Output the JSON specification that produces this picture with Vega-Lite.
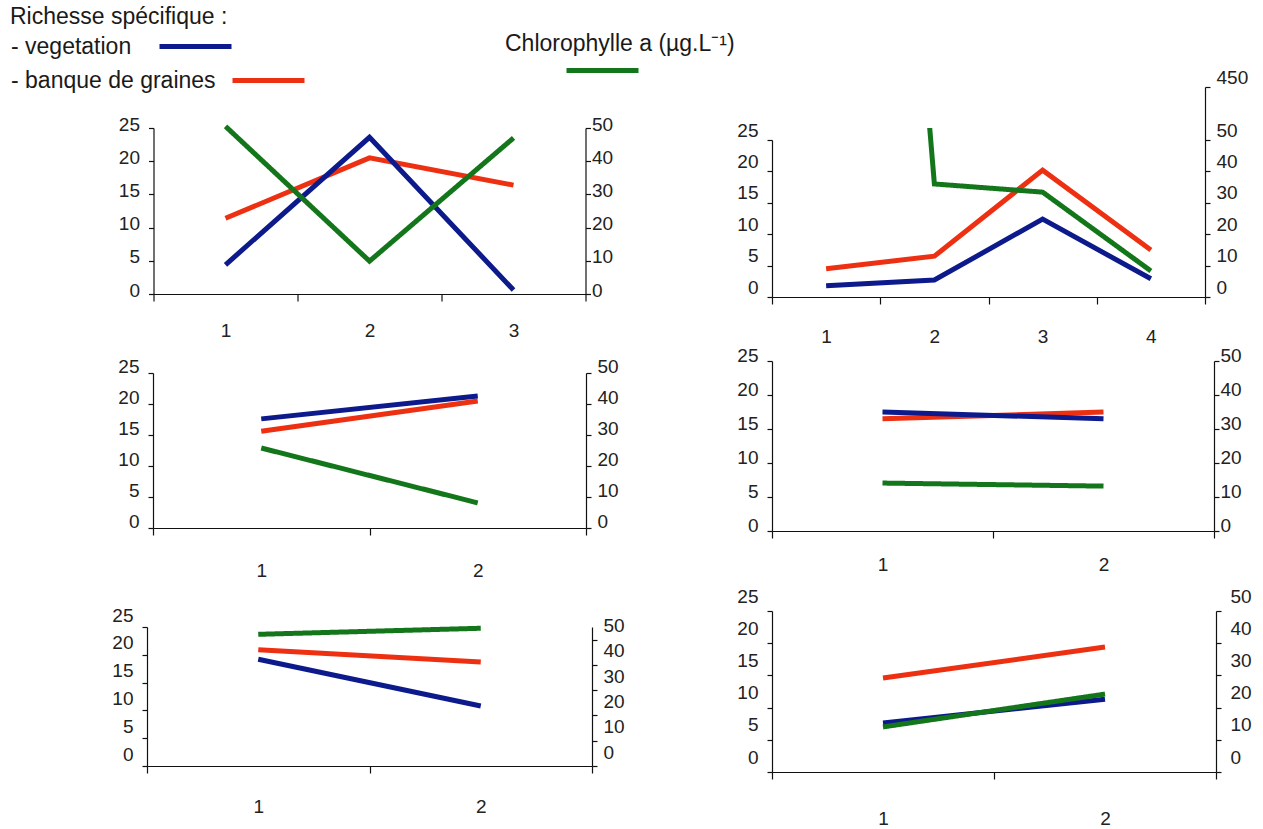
{
  "$schema": "https://vega.github.io/schema/vega-lite/v6.json",
  "background": "white",
  "padding": {"left": 10, "top": 6, "right": 5, "bottom": 5},
  "config": {
    "view": {"stroke": null},
    "font": "Liberation Sans",
    "axis": {"grid": false, "domainColor": "#111", "tickColor": "#111", "domainWidth": 1.2, "tickWidth": 1.2, "labelFont": "Liberation Sans", "labelFontSize": 19, "labelColor": "#222", "title": null},
    "legend": {"labelFont": "Liberation Sans", "titleFont": "Liberation Sans", "labelFontSize": 23, "titleFontSize": 23, "titleFontWeight": "normal", "labelColor": "#1a1a1a", "titleColor": "#1a1a1a", "padding": 0, "symbolStrokeWidth": 5, "labelLimit": 600, "titleLimit": 600}
  },
  "datasets": {
    "d": [
      {"panel": "p1", "site": 1, "series": "vegetation", "value": 4.4},
      {"panel": "p1", "site": 2, "series": "vegetation", "value": 23.6},
      {"panel": "p1", "site": 3, "series": "vegetation", "value": 0.6},
      {"panel": "p1", "site": 1, "series": "banque de graines", "value": 11.4},
      {"panel": "p1", "site": 2, "series": "banque de graines", "value": 20.5},
      {"panel": "p1", "site": 3, "series": "banque de graines", "value": 16.4},
      {"panel": "p1", "site": 1, "series": "Chlorophylle", "value": 50.5},
      {"panel": "p1", "site": 2, "series": "Chlorophylle", "value": 9.9},
      {"panel": "p1", "site": 3, "series": "Chlorophylle", "value": 47},
      {"panel": "p2", "site": 1, "series": "vegetation", "value": 1.8},
      {"panel": "p2", "site": 2, "series": "vegetation", "value": 2.7},
      {"panel": "p2", "site": 3, "series": "vegetation", "value": 12.4},
      {"panel": "p2", "site": 4, "series": "vegetation", "value": 2.9},
      {"panel": "p2", "site": 1, "series": "banque de graines", "value": 4.5},
      {"panel": "p2", "site": 2, "series": "banque de graines", "value": 6.5},
      {"panel": "p2", "site": 3, "series": "banque de graines", "value": 20.2},
      {"panel": "p2", "site": 4, "series": "banque de graines", "value": 7.5},
      {"panel": "p2", "site": 1, "series": "Chlorophylle", "value": 450},
      {"panel": "p2", "site": 2, "series": "Chlorophylle", "value": 36},
      {"panel": "p2", "site": 3, "series": "Chlorophylle", "value": 33.4},
      {"panel": "p2", "site": 4, "series": "Chlorophylle", "value": 8.3},
      {"panel": "p3", "site": 1, "series": "vegetation", "value": 17.6},
      {"panel": "p3", "site": 2, "series": "vegetation", "value": 21.3},
      {"panel": "p3", "site": 1, "series": "banque de graines", "value": 15.6},
      {"panel": "p3", "site": 2, "series": "banque de graines", "value": 20.5},
      {"panel": "p3", "site": 1, "series": "Chlorophylle", "value": 25.8},
      {"panel": "p3", "site": 2, "series": "Chlorophylle", "value": 8.1},
      {"panel": "p4", "site": 1, "series": "vegetation", "value": 17.5},
      {"panel": "p4", "site": 2, "series": "vegetation", "value": 16.5},
      {"panel": "p4", "site": 1, "series": "banque de graines", "value": 16.5},
      {"panel": "p4", "site": 2, "series": "banque de graines", "value": 17.5},
      {"panel": "p4", "site": 1, "series": "Chlorophylle", "value": 14.1},
      {"panel": "p4", "site": 2, "series": "Chlorophylle", "value": 13.2},
      {"panel": "p5", "site": 1, "series": "vegetation", "value": 19.2},
      {"panel": "p5", "site": 2, "series": "vegetation", "value": 10.8},
      {"panel": "p5", "site": 1, "series": "banque de graines", "value": 20.9},
      {"panel": "p5", "site": 2, "series": "banque de graines", "value": 18.7},
      {"panel": "p5", "site": 1, "series": "Chlorophylle", "value": 52.1},
      {"panel": "p5", "site": 2, "series": "Chlorophylle", "value": 54.5},
      {"panel": "p6", "site": 1, "series": "vegetation", "value": 7.6},
      {"panel": "p6", "site": 2, "series": "vegetation", "value": 11.3},
      {"panel": "p6", "site": 1, "series": "banque de graines", "value": 14.6},
      {"panel": "p6", "site": 2, "series": "banque de graines", "value": 19.4},
      {"panel": "p6", "site": 1, "series": "Chlorophylle", "value": 14.0},
      {"panel": "p6", "site": 2, "series": "Chlorophylle", "value": 24.2}
    ]
  },
  "data": {"name": "d"},
  "columns": 2,
  "spacing": {"row": 63, "column": 180},
  "center": true,
  "bounds": "flush",
  "concat": [
    {
      "width": 432, "height": 169,
      "transform": [{"filter": "datum.panel === 'p1'"}],
      "encoding": {"x": {"field": "site", "type": "ordinal", "bandPosition": 0.5, "scale": {"type": "band", "paddingInner": 0, "paddingOuter": 0}, "axis": {"labelAngle": 0, "tickBand": "extent", "tickSize": 7, "labelBaseline": "middle", "labelPadding": 29, "offset": -3}}},
      "layer": [
        {"transform": [{"filter": "datum.series === 'banque de graines'"}], "mark": {"type": "line", "strokeWidth": 5},
         "encoding": {"y": {"field": "value", "type": "quantitative", "scale": {"domain": [0, 25], "range": [166, 0], "nice": false}, "axis": null},
          "stroke": {"field": "series", "type": "nominal", "scale": {"domain": ["banque de graines"], "range": ["#ee3012"]}, "legend": {"title": null, "orient": "none", "legendX": -137, "legendY": -59, "symbolType": "M-18,0H18", "symbolSize": 16, "symbolOffset": 247, "labelOffset": -269, "labelExpr": "'- ' + datum.label"}}}},
        {"transform": [{"filter": "datum.series === 'vegetation'"}], "mark": {"type": "line", "strokeWidth": 5},
         "encoding": {"y": {"field": "value", "type": "quantitative", "scale": {"domain": [0, 25], "range": [166, 0], "nice": false}, "axis": {"orient": "left", "values": [0, 5, 10, 15, 20, 25], "tickSize": 5, "labelPadding": 9, "labelOffset": -4}},
          "color": {"field": "series", "type": "nominal", "scale": {"domain": ["vegetation"], "range": ["#0c1a8c"]}, "legend": {"title": "Richesse spécifique :", "orient": "none", "legendX": -137, "legendY": -122, "symbolType": "M-18,0H18", "symbolSize": 16, "symbolOffset": 174, "labelOffset": -196, "titlePadding": 6, "labelExpr": "'- ' + datum.label"}}}},
        {"transform": [{"filter": "datum.series === 'Chlorophylle'"}], "mark": {"type": "line", "strokeWidth": 5, "color": "#13761a"},
         "encoding": {"y": {"field": "value", "type": "quantitative", "scale": {"domain": [0, 50], "range": [166, 0], "nice": false}, "axis": {"orient": "right", "values": [0, 10, 20, 30, 40, 50], "tickSize": 5, "labelPadding": 1, "labelOffset": -4}},
          "strokeDash": {"field": "series", "type": "nominal", "scale": {"domain": ["Chlorophylle"], "range": [[1, 0]]}, "legend": {"title": "Chlorophylle a (µg.L⁻¹)", "orient": "none", "legendX": 358, "legendY": -95, "symbolType": "M-18,0H18", "symbolSize": 16, "symbolOffset": 86, "titlePadding": 3, "labelExpr": "''", "symbolStrokeColor": "#13761a"}}}}
      ],
      "resolve": {"scale": {"y": "independent"}, "axis": {"y": "independent"}}
    },
    {
      "width": 433, "height": 169,
      "transform": [{"filter": "datum.panel === 'p2'"}],
      "encoding": {"x": {"field": "site", "type": "ordinal", "bandPosition": 0.5, "scale": {"type": "band", "paddingInner": 0, "paddingOuter": 0}, "axis": {"labelAngle": 0, "tickBand": "extent", "tickSize": 7, "labelBaseline": "middle", "labelPadding": 32}}},
      "layer": [
        {"transform": [{"filter": "datum.series === 'banque de graines'"}], "mark": {"type": "line", "strokeWidth": 5},
         "encoding": {"y": {"field": "value", "type": "quantitative", "scale": {"domain": [0, 25], "range": [169, 12], "nice": false}, "axis": null},
          "stroke": {"field": "series", "type": "nominal"}}},
        {"transform": [{"filter": "datum.series === 'vegetation'"}], "mark": {"type": "line", "strokeWidth": 5},
         "encoding": {"y": {"field": "value", "type": "quantitative", "scale": {"domain": [0, 25], "range": [169, 12], "nice": false}, "axis": {"orient": "left", "values": [0, 5, 10, 15, 20, 25], "tickSize": 5, "labelPadding": 9, "labelOffset": -10}},
          "color": {"field": "series", "type": "nominal"}}},
        {"transform": [{"filter": "datum.series === 'Chlorophylle'"}], "mark": {"type": "line", "strokeWidth": 5, "color": "#13761a", "clip": true},
         "encoding": {"y": {"field": "value", "type": "quantitative", "scale": {"domain": [0, 50], "range": [169, 12], "nice": false}, "axis": null},
          "strokeDash": {"field": "series", "type": "nominal"}}},
        {"transform": [{"filter": "datum.series === 'Chlorophylle'"}], "mark": {"type": "line", "opacity": 0},
         "encoding": {"y": {"field": "value", "type": "quantitative", "scale": {"domain": [0, 50, 450], "range": [169, 12, -41], "nice": false}, "axis": {"orient": "right", "values": [0, 10, 20, 30, 40, 50, 450], "tickSize": 5, "labelPadding": 6, "labelOffset": -10}}}}
      ],
      "resolve": {"scale": {"y": "independent"}, "axis": {"y": "independent"}}
    },
    {
      "width": 433, "height": 188,
      "transform": [{"filter": "datum.panel === 'p3'"}],
      "encoding": {"x": {"field": "site", "type": "ordinal", "bandPosition": 0.5, "scale": {"type": "band", "paddingInner": 0, "paddingOuter": 0}, "axis": {"labelAngle": 0, "tickBand": "extent", "tickSize": 7, "labelBaseline": "middle", "labelPadding": 35, "offset": -20}}},
      "layer": [
        {"transform": [{"filter": "datum.series === 'banque de graines'"}], "mark": {"type": "line", "strokeWidth": 5},
         "encoding": {"y": {"field": "value", "type": "quantitative", "scale": {"domain": [0, 25], "range": [168, 13], "nice": false}, "axis": null},
          "stroke": {"field": "series", "type": "nominal"}}},
        {"transform": [{"filter": "datum.series === 'vegetation'"}], "mark": {"type": "line", "strokeWidth": 5},
         "encoding": {"y": {"field": "value", "type": "quantitative", "scale": {"domain": [0, 25], "range": [168, 13], "nice": false}, "axis": {"orient": "left", "values": [0, 5, 10, 15, 20, 25], "tickSize": 5, "labelPadding": 9, "labelOffset": -7}},
          "color": {"field": "series", "type": "nominal"}}},
        {"transform": [{"filter": "datum.series === 'Chlorophylle'"}], "mark": {"type": "line", "strokeWidth": 5, "color": "#13761a"},
         "encoding": {"y": {"field": "value", "type": "quantitative", "scale": {"domain": [0, 50], "range": [168, 13], "nice": false}, "axis": {"orient": "right", "values": [0, 10, 20, 30, 40, 50], "tickSize": 5, "labelPadding": 6, "labelOffset": -7}},
          "strokeDash": {"field": "series", "type": "nominal"}}}
      ],
      "resolve": {"scale": {"y": "independent"}, "axis": {"y": "independent"}}
    },
    {
      "width": 442, "height": 188,
      "transform": [{"filter": "datum.panel === 'p4'"}],
      "encoding": {"x": {"field": "site", "type": "ordinal", "bandPosition": 0.5, "scale": {"type": "band", "paddingInner": 0, "paddingOuter": 0}, "axis": {"labelAngle": 0, "tickBand": "extent", "tickSize": 7, "labelBaseline": "middle", "labelPadding": 26, "offset": -17}}},
      "layer": [
        {"transform": [{"filter": "datum.series === 'banque de graines'"}], "mark": {"type": "line", "strokeWidth": 5},
         "encoding": {"y": {"field": "value", "type": "quantitative", "scale": {"domain": [0, 25], "range": [171, 1], "nice": false}, "axis": null},
          "stroke": {"field": "series", "type": "nominal"}}},
        {"transform": [{"filter": "datum.series === 'vegetation'"}], "mark": {"type": "line", "strokeWidth": 5},
         "encoding": {"y": {"field": "value", "type": "quantitative", "scale": {"domain": [0, 25], "range": [171, 1], "nice": false}, "axis": {"orient": "left", "values": [0, 5, 10, 15, 20, 25], "tickSize": 5, "labelPadding": 9, "labelOffset": -6}},
          "color": {"field": "series", "type": "nominal"}}},
        {"transform": [{"filter": "datum.series === 'Chlorophylle'"}], "mark": {"type": "line", "strokeWidth": 5, "color": "#13761a"},
         "encoding": {"y": {"field": "value", "type": "quantitative", "scale": {"domain": [0, 50], "range": [171, 1], "nice": false}, "axis": {"orient": "right", "values": [0, 10, 20, 30, 40, 50], "tickSize": 5, "labelPadding": 1, "labelOffset": -6}},
          "strokeDash": {"field": "series", "type": "nominal"}}}
      ],
      "resolve": {"scale": {"y": "independent"}, "axis": {"y": "independent"}}
    },
    {
      "width": 445, "height": 161,
      "transform": [{"filter": "datum.panel === 'p5'"}],
      "encoding": {"x": {"field": "site", "type": "ordinal", "bandPosition": 0.5, "scale": {"type": "band", "paddingInner": 0, "paddingOuter": 0}, "axis": {"labelAngle": 0, "tickBand": "extent", "tickSize": 7, "labelBaseline": "middle", "labelPadding": 33, "offset": -6}}},
      "layer": [
        {"transform": [{"filter": "datum.series === 'banque de graines'"}], "mark": {"type": "line", "strokeWidth": 5},
         "encoding": {"y": {"field": "value", "type": "quantitative", "scale": {"domain": [0, 25], "range": [155, 16], "nice": false}, "axis": null},
          "stroke": {"field": "series", "type": "nominal"}}},
        {"transform": [{"filter": "datum.series === 'vegetation'"}], "mark": {"type": "line", "strokeWidth": 5},
         "encoding": {"y": {"field": "value", "type": "quantitative", "scale": {"domain": [0, 25], "range": [155, 16], "nice": false}, "axis": {"orient": "left", "values": [0, 5, 10, 15, 20, 25], "tickSize": 5, "labelPadding": 9, "labelOffset": -12}},
          "color": {"field": "series", "type": "nominal"}}},
        {"transform": [{"filter": "datum.series === 'Chlorophylle'"}], "mark": {"type": "line", "strokeWidth": 5, "color": "#13761a"},
         "encoding": {"y": {"field": "value", "type": "quantitative", "scale": {"domain": [0, 55], "range": [155, 16], "nice": false}, "axis": {"orient": "right", "values": [0, 10, 20, 30, 40, 50], "tickSize": 5, "labelPadding": 6, "labelOffset": -14}},
          "strokeDash": {"field": "series", "type": "nominal"}}}
      ],
      "resolve": {"scale": {"y": "independent"}, "axis": {"y": "independent"}}
    },
    {
      "width": 444, "height": 161,
      "transform": [{"filter": "datum.panel === 'p6'"}],
      "encoding": {"x": {"field": "site", "type": "ordinal", "bandPosition": 0.5, "scale": {"type": "band", "paddingInner": 0, "paddingOuter": 0}, "axis": {"labelAngle": 0, "tickBand": "extent", "tickSize": 7, "labelBaseline": "middle", "labelPadding": 39}}},
      "layer": [
        {"transform": [{"filter": "datum.series === 'banque de graines'"}], "mark": {"type": "line", "strokeWidth": 5},
         "encoding": {"y": {"field": "value", "type": "quantitative", "scale": {"domain": [0, 25], "range": [161, 0], "nice": false}, "axis": null},
          "stroke": {"field": "series", "type": "nominal"}}},
        {"transform": [{"filter": "datum.series === 'vegetation'"}], "mark": {"type": "line", "strokeWidth": 5},
         "encoding": {"y": {"field": "value", "type": "quantitative", "scale": {"domain": [0, 25], "range": [161, 0], "nice": false}, "axis": {"orient": "left", "values": [0, 5, 10, 15, 20, 25], "tickSize": 5, "labelPadding": 9, "labelOffset": -15}},
          "color": {"field": "series", "type": "nominal"}}},
        {"transform": [{"filter": "datum.series === 'Chlorophylle'"}], "mark": {"type": "line", "strokeWidth": 5, "color": "#13761a"},
         "encoding": {"y": {"field": "value", "type": "quantitative", "scale": {"domain": [0, 50], "range": [161, 0], "nice": false}, "axis": {"orient": "right", "values": [0, 10, 20, 30, 40, 50], "tickSize": 5, "labelPadding": 9, "labelOffset": -15}},
          "strokeDash": {"field": "series", "type": "nominal"}}}
      ],
      "resolve": {"scale": {"y": "independent"}, "axis": {"y": "independent"}}
    }
  ]
}
